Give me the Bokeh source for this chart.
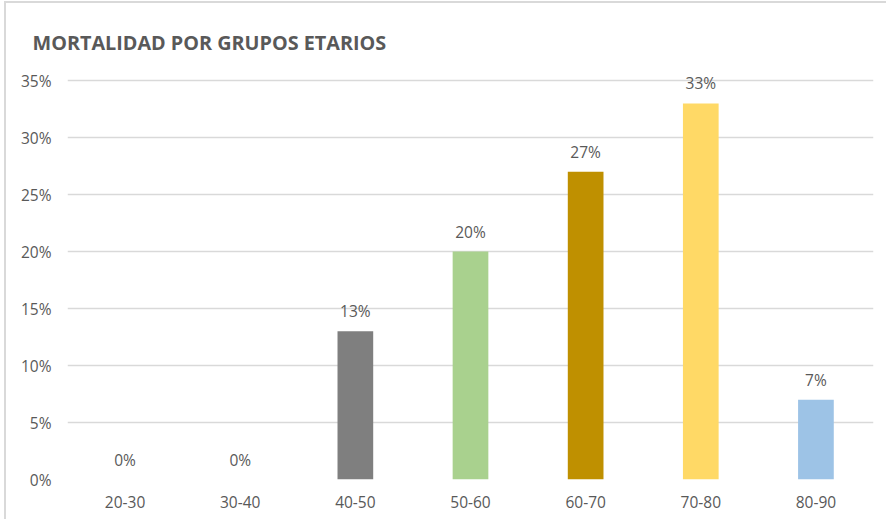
from bokeh.plotting import figure
from bokeh.models import ColumnDataSource, NumeralTickFormatter, FixedTicker, Range1d, LabelSet
from bokeh.core.properties import value
from bokeh.embed import file_html
from bokeh.resources import INLINE

categories = ["20-30", "30-40", "40-50", "50-60", "60-70", "70-80", "80-90"]
values = [0.00, 0.00, 0.13, 0.20, 0.27, 0.33, 0.07]
labels = ["0%", "0%", "13%", "20%", "27%", "33%", "7%"]
colors = ["#7f7f7f", "#7f7f7f", "#7f7f7f", "#a9d18e", "#bf9000", "#ffd966", "#9dc3e6"]
y_ticks = [0, 0.05, 0.10, 0.15, 0.20, 0.25, 0.30, 0.35]

FONT = "Open Sans"
TXT = "#595959"

src = ColumnDataSource(dict(cat=categories, val=values, lab=labels, col=colors))

p = figure(x_range=categories, y_range=Range1d(0, 0.365), width=882, height=518,
           output_backend="svg", toolbar_location=None,
           min_border_left=61, min_border_right=15, min_border_top=60, min_border_bottom=42)
p.margin = (1, 0, 0, 4)
p.styles = {"border-top": "2px solid #d9d9d9", "border-left": "2px solid #d9d9d9"}
p.x_range.range_padding = 0
p.outline_line_color = None
p.background_fill_color = "white"
p.border_fill_color = "white"

p.vbar(x="cat", top="val", width=0.31, fill_color="col", line_color=None, source=src)
bar_labels = LabelSet(x="cat", y="val", text="lab", source=src, text_align="center",
                      text_baseline="bottom", y_offset=9, text_font=value(FONT),
                      text_font_size=value("15.5px"), text_color=value(TXT))
p.add_layout(bar_labels)

p.title.text = "MORTALIDAD POR GRUPOS ETARIOS"
p.title.text_font = FONT
p.title.text_font_size = "19.8px"
p.title.text_font_style = "bold"
p.title.text_color = TXT
p.title.align = "left"
p.title.offset = -35
p.title.standoff = 16

p.yaxis.ticker = FixedTicker(ticks=y_ticks)
p.yaxis.formatter = NumeralTickFormatter(format="0%")
for ax in (p.xaxis, p.yaxis):
    ax.axis_line_color = None
    ax.major_tick_line_color = None
    ax.minor_tick_line_color = None
    ax.major_label_text_font = FONT
    ax.major_label_text_font_size = "15.5px"
    ax.major_label_text_color = TXT
p.yaxis.major_label_standoff = 10
p.xaxis.major_label_standoff = 10

p.xgrid.grid_line_color = None
p.ygrid.grid_line_color = "#d9d9d9"
p.ygrid.grid_line_width = 1.3

open("out.html", "w").write(file_html(p, INLINE))
